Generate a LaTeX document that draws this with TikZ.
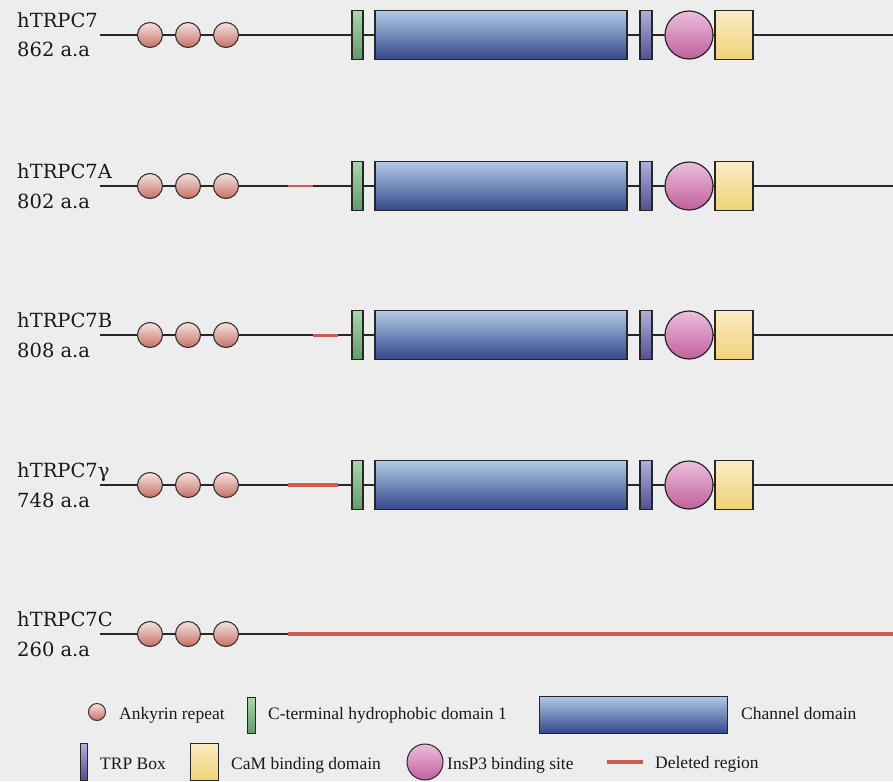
\documentclass[tikz,border=0pt]{standalone}
\usepackage{fontspec}
\setmainfont{Liberation Serif}
\newfontfamily\labfont{DejaVu Serif}
\usetikzlibrary{shadings}
\definecolor{bgc}{RGB}{237,237,237}
\definecolor{ankT}{RGB}{248,226,222}
\definecolor{ankM}{RGB}{236,180,170}
\definecolor{ankB}{RGB}{196,112,100}
\definecolor{hydT}{RGB}{170,214,170}
\definecolor{hydB}{RGB}{96,156,104}
\definecolor{chanT}{RGB}{178,202,232}
\definecolor{chanB}{RGB}{52,72,138}
\definecolor{trpT}{RGB}{176,176,220}
\definecolor{trpB}{RGB}{80,80,144}
\definecolor{insT}{RGB}{236,190,222}
\definecolor{insB}{RGB}{192,96,156}
\definecolor{camT}{RGB}{250,236,196}
\definecolor{camB}{RGB}{240,210,120}
\definecolor{delc}{RGB}{204,92,80}
\begin{document}
\begin{tikzpicture}[x=1pt,y=-1pt,
  dom/.style={draw=black!85, line width=1.2pt, inner sep=0pt, minimum height=49pt},
  ank/.style={circle, draw=black!80, line width=1.1pt, inner sep=0pt, minimum size=25pt, top color=ankT, middle color=ankM, bottom color=ankB},
  hyd/.style={dom, rectangle, minimum width=11pt, top color=hydT, bottom color=hydB},
  chan/.style={dom, rectangle, minimum width=252pt, top color=chanT, bottom color=chanB},
  trp/.style={dom, rectangle, minimum width=12pt, top color=trpT, bottom color=trpB},
  ins/.style={circle, draw=black!85, line width=1.2pt, inner sep=0pt, minimum size=48pt, top color=insT, bottom color=insB},
  cam/.style={dom, rectangle, minimum width=38pt, top color=camT, bottom color=camB},
  protline/.style={draw=black!85, line width=1.3pt},
  delline/.style={draw=delc, line width=3pt},
  lab/.style={anchor=base west, inner sep=0pt, font=\labfont\fontsize{19.5}{22}\selectfont, text=black!90},
  legtxt/.style={anchor=base west, inner sep=0pt, font=\fontsize{17.5}{20}\selectfont, text=black!90}
]
\fill[bgc] (0,0) rectangle (893,781);
\useasboundingbox (0,0) rectangle (893,781);

% ---- rows with full domain set ----
\foreach \r/\y/\nm/\aa in {1/35/hTRPC7/862, 2/186/hTRPC7A/802, 3/335/hTRPC7B/808, 4/485/hTRPC7γ/748}{
  \coordinate (s\r) at (100,\y);
  \coordinate (e\r) at (893,\y);
  \draw[protline] (s\r) -- (e\r);
  \node[lab] (name\r) at (17,\y-7.5) {\nm};
  \node[lab] (len\r) at (17,\y+22) {\aa\ a.a};
  \node[ank] (a\r x1) at (150,\y) {};
  \node[ank] (a\r x2) at (188,\y) {};
  \node[ank] (a\r x3) at (226,\y) {};
  \node[hyd] (hyd\r) at (357.5,\y) {};
  \node[chan] (chan\r) at (501,\y) {};
  \node[trp] (trp\r) at (646,\y) {};
  \node[ins] (ins\r) at (689,\y) {};
  \node[cam] (cam\r) at (734,\y) {};
}
% deleted regions
\coordinate (d2a) at (288,186); \coordinate (d2b) at (313,186);
\draw[delline, line width=2.8pt] (d2a) -- (d2b);
\coordinate (d3a) at (313,335); \coordinate (d3b) at (338,335);
\draw[delline, line width=3pt] (d3a) -- (d3b);
\coordinate (d4a) at (288,485); \coordinate (d4b) at (338,485);
\draw[delline, line width=4pt] (d4a) -- (d4b);

% ---- row 5: hTRPC7C ----
\coordinate (s5) at (100,634);
\coordinate (d5a) at (288,634);
\coordinate (e5) at (893,634);
\draw[protline] (s5) -- (d5a);
\draw[delline, line width=3.5pt] (d5a) -- (e5);
\node[lab] (name5) at (17,634-7.5) {hTRPC7C};
\node[lab] (len5) at (17,634+22) {260 a.a};
\node[ank] (a5x1) at (150,634) {};
\node[ank] (a5x2) at (188,634) {};
\node[ank] (a5x3) at (226,634) {};

% ---- legend ----
\node[ank, minimum size=17pt, line width=1pt] (lgAnk) at (97,712) {};
\node[legtxt] (tAnk) at (119,719) {Ankyrin repeat};
\node[hyd, minimum width=8pt, minimum height=36pt, line width=1pt] (lgHyd) at (251,715) {};
\node[legtxt] (tHyd) at (268,719) {C-terminal hydrophobic domain 1};
\node[chan, minimum width=188pt, minimum height=37pt, line width=1pt] (lgChan) at (633,714.5) {};
\node[legtxt] (tChan) at (741,719) {Channel domain};
\node[trp, minimum width=7pt, minimum height=37pt, line width=1pt] (lgTrp) at (83.5,761.5) {};
\node[legtxt] (tTrp) at (100,769) {TRP Box};
\node[cam, minimum width=28pt, minimum height=37pt, line width=1pt] (lgCam) at (204,761.5) {};
\node[legtxt] (tCam) at (231,769) {CaM binding domain};
\node[ins, minimum size=36pt, line width=1pt] (lgIns) at (425,762) {};
\node[legtxt] (tIns) at (447,769) {InsP3 binding site};
\coordinate (lgDa) at (607,762); \coordinate (lgDb) at (643,762);
\draw[delline, line width=3.5pt] (lgDa) -- (lgDb);
\node[legtxt] (tDel) at (655,768) {Deleted region};
\end{tikzpicture}
\end{document}
